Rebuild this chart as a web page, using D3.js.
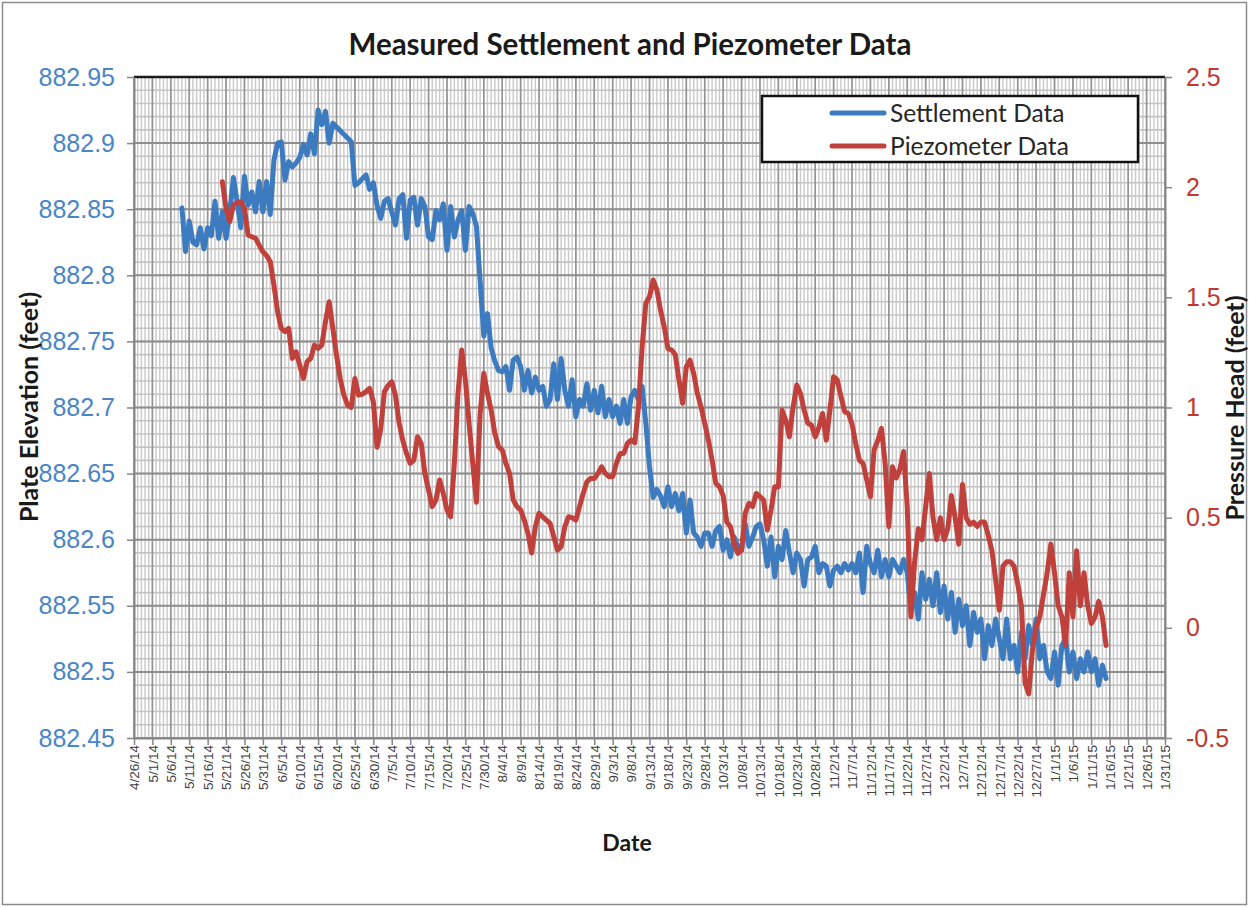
<!DOCTYPE html>
<html>
<head>
<meta charset="utf-8">
<script src="https://cdn.jsdelivr.net/npm/d3@7"></script>
<style>
	body { margin: 0; background: #fff; }
	svg { display: block; font-family: Lato, "Open Sans", sans-serif; }
</style>
</head>
<body>
<div id="wrapper"></div>
<script>
// daily reading dates
const dates = [
	"5/9/14","5/10/14","5/11/14","5/12/14","5/13/14","5/14/14","5/15/14","5/16/14","5/17/14","5/18/14","5/19/14","5/20/14","5/21/14","5/22/14","5/23/14","5/24/14","5/25/14","5/26/14","5/27/14","5/28/14","5/29/14","5/30/14","5/31/14",
	"6/1/14","6/2/14","6/3/14","6/4/14","6/5/14","6/6/14","6/7/14","6/8/14","6/9/14","6/10/14","6/11/14","6/12/14","6/13/14","6/14/14","6/15/14","6/16/14","6/17/14","6/18/14","6/19/14","6/20/14","6/21/14","6/22/14","6/23/14","6/24/14","6/25/14","6/26/14","6/27/14","6/28/14","6/29/14","6/30/14",
	"7/1/14","7/2/14","7/3/14","7/4/14","7/5/14","7/6/14","7/7/14","7/8/14","7/9/14","7/10/14","7/11/14","7/12/14","7/13/14","7/14/14","7/15/14","7/16/14","7/17/14","7/18/14","7/19/14","7/20/14","7/21/14","7/22/14","7/23/14","7/24/14","7/25/14","7/26/14","7/27/14","7/28/14","7/29/14","7/30/14","7/31/14",
	"8/1/14","8/2/14","8/3/14","8/4/14","8/5/14","8/6/14","8/7/14","8/8/14","8/9/14","8/10/14","8/11/14","8/12/14","8/13/14","8/14/14","8/15/14","8/16/14","8/17/14","8/18/14","8/19/14","8/20/14","8/21/14","8/22/14","8/23/14","8/24/14","8/25/14","8/26/14","8/27/14","8/28/14","8/29/14","8/30/14","8/31/14",
	"9/1/14","9/2/14","9/3/14","9/4/14","9/5/14","9/6/14","9/7/14","9/8/14","9/9/14","9/10/14","9/11/14","9/12/14","9/13/14","9/14/14","9/15/14","9/16/14","9/17/14","9/18/14","9/19/14","9/20/14","9/21/14","9/22/14","9/23/14","9/24/14","9/25/14","9/26/14","9/27/14","9/28/14","9/29/14","9/30/14",
	"10/1/14","10/2/14","10/3/14","10/4/14","10/5/14","10/6/14","10/7/14","10/8/14","10/9/14","10/10/14","10/11/14","10/12/14","10/13/14","10/14/14","10/15/14","10/16/14","10/17/14","10/18/14","10/19/14","10/20/14","10/21/14","10/22/14","10/23/14","10/24/14","10/25/14","10/26/14","10/27/14","10/28/14","10/29/14","10/30/14","10/31/14",
	"11/1/14","11/2/14","11/3/14","11/4/14","11/5/14","11/6/14","11/7/14","11/8/14","11/9/14","11/10/14","11/11/14","11/12/14","11/13/14","11/14/14","11/15/14","11/16/14","11/17/14","11/18/14","11/19/14","11/20/14","11/21/14","11/22/14","11/23/14","11/24/14","11/25/14","11/26/14","11/27/14","11/28/14","11/29/14","11/30/14",
	"12/1/14","12/2/14","12/3/14","12/4/14","12/5/14","12/6/14","12/7/14","12/8/14","12/9/14","12/10/14","12/11/14","12/12/14","12/13/14","12/14/14","12/15/14","12/16/14","12/17/14","12/18/14","12/19/14","12/20/14","12/21/14","12/22/14","12/23/14","12/24/14","12/25/14","12/26/14","12/27/14","12/28/14","12/29/14","12/30/14","12/31/14",
	"1/1/15","1/2/15","1/3/15","1/4/15","1/5/15","1/6/15","1/7/15","1/8/15","1/9/15","1/10/15","1/11/15","1/12/15","1/13/15","1/14/15","1/15/15",
];

// plate elevation (feet), null = no reading
const settlement = [
	882.851,882.818,882.841,882.825,882.823,882.836,882.820,882.836,882.830,882.856,882.828,882.848,882.828,882.848,882.874,882.856,882.836,882.875,882.853,882.863,882.848,882.871,882.848,
	882.871,882.846,882.887,882.900,882.901,882.872,882.886,882.882,882.885,882.889,882.899,882.891,882.907,882.892,882.925,882.914,882.924,882.900,882.915,null,null,null,null,882.901,882.868,882.870,882.873,882.876,882.865,882.870,
	882.853,882.843,882.856,882.858,882.848,882.838,882.858,882.861,882.828,882.857,882.859,882.838,882.858,882.852,882.829,882.827,882.849,882.842,882.854,882.819,882.852,882.829,882.842,882.849,882.819,882.852,882.847,882.837,882.796,882.754,882.771,
	882.745,882.735,882.728,882.727,882.731,882.713,882.736,882.738,882.731,882.713,882.728,882.711,882.723,882.713,882.716,882.701,882.706,882.733,882.706,882.737,882.713,882.701,882.721,882.693,882.706,882.701,882.718,882.698,882.713,882.696,882.716,
	882.693,882.706,882.693,882.701,882.688,882.706,882.688,882.708,882.713,882.706,882.716,882.688,882.655,882.632,882.638,882.633,882.625,882.640,882.625,882.635,882.622,882.635,882.605,882.630,882.605,882.602,882.595,882.605,882.605,882.595,
	882.607,882.610,882.592,882.600,882.587,882.602,882.595,882.592,882.612,882.595,882.602,882.610,882.612,882.600,882.580,882.602,882.572,882.595,882.585,882.607,882.590,882.575,882.590,882.585,882.565,882.585,882.587,882.595,882.575,882.582,882.580,
	882.565,882.577,882.580,882.575,882.582,882.577,882.582,882.575,882.590,882.560,882.595,882.582,882.575,882.592,882.572,882.585,882.572,882.585,882.580,882.575,882.585,882.575,882.545,882.560,882.540,882.575,882.555,882.570,882.550,882.575,
	882.545,882.565,882.540,882.560,882.530,882.555,882.535,882.550,882.520,882.545,882.530,882.540,882.510,882.535,882.520,882.540,882.525,882.510,882.540,882.510,882.520,882.500,882.530,882.510,882.535,882.520,882.540,882.510,882.520,882.500,882.495,
	882.515,882.490,882.520,882.525,882.500,882.515,882.495,882.510,882.500,882.515,882.500,882.510,882.490,882.505,882.495,
];

// pressure head (feet), null = no reading
const piezometer = [
	null,null,null,null,null,null,null,null,null,null,null,2.025,1.904,1.843,1.919,1.930,1.934,1.904,1.783,1.775,1.768,1.737,1.707,
	1.690,1.662,1.556,1.435,1.359,1.344,1.359,1.223,1.253,1.193,1.132,1.208,1.223,1.283,1.268,1.283,1.389,1.480,1.359,1.238,1.132,1.056,1.011,1.000,1.132,1.056,1.060,1.072,1.087,1.026,
	0.820,0.900,1.072,1.100,1.117,1.056,0.930,0.850,0.792,0.746,0.761,0.867,0.837,0.701,0.625,0.550,0.580,0.671,0.610,0.535,0.504,0.746,1.064,1.261,1.125,0.928,0.746,0.570,0.973,1.155,1.064,
	0.988,0.883,0.822,0.807,0.746,0.701,0.580,0.550,0.535,0.489,0.429,0.340,0.459,0.520,0.504,0.489,0.474,0.414,0.353,0.368,0.459,0.504,0.500,0.489,0.550,0.610,0.663,0.678,0.678,0.701,0.731,
	0.701,0.686,0.686,0.746,0.790,0.792,0.837,0.852,0.840,1.000,1.276,1.473,1.503,1.579,1.533,1.442,1.367,1.268,1.261,1.240,1.125,1.019,1.185,1.215,1.155,1.064,1.003,0.928,0.852,0.761,
	0.656,0.640,0.600,0.480,0.459,0.383,0.338,0.353,0.520,0.565,0.550,0.610,0.595,0.580,0.444,0.535,0.640,0.640,0.988,0.943,0.867,1.003,1.102,1.064,0.988,0.928,0.920,0.867,0.910,0.973,0.852,
	0.988,1.140,1.125,1.049,0.981,0.973,0.925,0.837,0.761,0.746,0.671,0.595,0.807,0.850,0.905,0.746,0.459,0.731,0.680,0.720,0.800,0.550,0.050,0.300,0.450,0.400,0.550,0.700,0.500,0.400,
	0.500,0.400,0.450,0.600,0.500,0.380,0.650,0.500,0.470,0.480,0.460,0.480,0.480,0.420,0.350,0.220,0.080,0.280,0.300,0.300,0.280,0.200,0.100,-0.250,-0.300,-0.100,0.000,0.050,0.150,0.250,0.380,
	0.250,0.100,0.050,-0.080,0.250,0.050,0.350,0.100,0.250,0.100,0.020,0.050,0.120,0.050,-0.080,
];

const xTickLabels = [
	"4/26/14","5/1/14","5/6/14","5/11/14","5/16/14","5/21/14","5/26/14","5/31/14","6/5/14","6/10/14","6/15/14","6/20/14","6/25/14","6/30/14",
	"7/5/14","7/10/14","7/15/14","7/20/14","7/25/14","7/30/14","8/4/14","8/9/14","8/14/14","8/19/14","8/24/14","8/29/14","9/3/14","9/8/14",
	"9/13/14","9/18/14","9/23/14","9/28/14","10/3/14","10/8/14","10/13/14","10/18/14","10/23/14","10/28/14","11/2/14","11/7/14","11/12/14","11/17/14",
	"11/22/14","11/27/14","12/2/14","12/7/14","12/12/14","12/17/14","12/22/14","12/27/14","1/1/15","1/6/15","1/11/15","1/16/15","1/21/15","1/26/15","1/31/15",
];
const leftTicks = [882.45, 882.5, 882.55, 882.6, 882.65, 882.7, 882.75, 882.8, 882.85, 882.9, 882.95];
const leftTickLabels = ["882.45","882.5","882.55","882.6","882.65","882.7","882.75","882.8","882.85","882.9","882.95"];
const rightTicks = [-0.5, 0, 0.5, 1, 1.5, 2, 2.5];
const rightTickLabels = ["-0.5","0","0.5","1","1.5","2","2.5"];

const width = 1249;
const height = 907;
const plot = { left: 134, right: 1165, top: 77, bottom: 738 };
const blue = "#3d7bc0";
const red = "#c0403c";

const parseDate = d3.timeParse("%m/%d/%y");
const tickDates = xTickLabels.map(parseDate);

const svg = d3
	.select("#wrapper")
	.append("svg")
	.attr("width", width)
	.attr("height", height);

// outer chart frame
svg
	.append("rect")
	.attr("x", 2.5)
	.attr("y", 2.5)
	.attr("width", width - 5)
	.attr("height", height - 5)
	.attr("fill", "#fff")
	.attr("stroke", "#8c8c8c")
	.attr("stroke-width", 1.5);

const xScale = d3
	.scaleTime()
	.domain(d3.extent(tickDates))
	.range([plot.left, plot.right]);
const yLeft = d3
	.scaleLinear()
	.domain([leftTicks[0], leftTicks[leftTicks.length - 1]])
	.range([plot.bottom, plot.top]);
const yRight = d3
	.scaleLinear()
	.domain([rightTicks[0], rightTicks[rightTicks.length - 1]])
	.range([plot.bottom, plot.top]);

// grid: minor lines every day / 0.01 ft, major every 5 days / 0.05 ft
const grid = svg.append("g");
const days = d3.timeDay.range(xScale.domain()[0], d3.timeDay.offset(xScale.domain()[1], 1));
grid
	.selectAll(".vminor")
	.data(days)
	.join("line")
	.attr("x1", (d) => xScale(d))
	.attr("x2", (d) => xScale(d))
	.attr("y1", plot.top)
	.attr("y2", plot.bottom)
	.attr("stroke", "#c9c9c9")
	.attr("stroke-width", 1.4);
grid
	.selectAll(".hminor")
	.data(yLeft.ticks(50))
	.join("line")
	.attr("x1", plot.left)
	.attr("x2", plot.right)
	.attr("y1", (d) => yLeft(d))
	.attr("y2", (d) => yLeft(d))
	.attr("stroke", "#c4c4c4")
	.attr("stroke-width", 1.6);
grid
	.selectAll(".vmajor")
	.data(tickDates)
	.join("line")
	.attr("x1", (d) => xScale(d))
	.attr("x2", (d) => xScale(d))
	.attr("y1", plot.top)
	.attr("y2", plot.bottom)
	.attr("stroke", "#939393")
	.attr("stroke-width", 1.6);
grid
	.selectAll(".hmajor")
	.data(leftTicks)
	.join("line")
	.attr("x1", plot.left)
	.attr("x2", plot.right)
	.attr("y1", (d) => yLeft(d))
	.attr("y2", (d) => yLeft(d))
	.attr("stroke", "#8e8e8e")
	.attr("stroke-width", 2);

// top border of the plot area
svg
	.append("line")
	.attr("x1", plot.left)
	.attr("x2", plot.right)
	.attr("y1", plot.top)
	.attr("y2", plot.top)
	.attr("stroke", "#1a1a1a")
	.attr("stroke-width", 2.5);

// axes
const xAxis = svg
	.append("g")
	.attr("transform", `translate(0, ${plot.bottom})`)
	.call(
		d3.axisBottom(xScale)
			.tickValues(tickDates)
			.tickFormat((d, i) => xTickLabels[i])
			.tickSize(7)
			.tickSizeOuter(0)
	);
xAxis
	.selectAll("text")
	.attr("transform", "rotate(-90)")
	.attr("text-anchor", "end")
	.attr("x", -7)
	.attr("y", 0)
	.attr("dy", "0.35em")
	.attr("fill", "#404040")
	.style("font-size", "13.5px");

const leftAxis = svg
	.append("g")
	.attr("transform", `translate(${plot.left}, 0)`)
	.call(
		d3.axisLeft(yLeft)
			.tickValues(leftTicks)
			.tickFormat((d, i) => leftTickLabels[i])
			.tickSize(7)
			.tickSizeOuter(0)
			.tickPadding(12)
	);
leftAxis.selectAll("text").attr("fill", "#4a86c6").style("font-size", "25px");

const rightAxis = svg
	.append("g")
	.attr("transform", `translate(${plot.right}, 0)`)
	.call(
		d3.axisRight(yRight)
			.tickValues(rightTicks)
			.tickFormat((d, i) => rightTickLabels[i])
			.tickSize(7)
			.tickSizeOuter(0)
			.tickPadding(14)
	);
rightAxis.selectAll("text").attr("fill", "#c0392f").style("font-size", "25px");

for (const axis of [xAxis, leftAxis, rightAxis]) {
	axis.select(".domain").attr("stroke", "#868686").attr("stroke-width", 2);
	axis.selectAll(".tick line").attr("stroke", "#868686").attr("stroke-width", 1.5);
}

// series
const points = (values, scale) =>
	dates
		.map((d, i) => ({ date: parseDate(d), value: values[i] }))
		.filter((d) => d.value !== null)
		.map((d) => [xScale(d.date), scale(d.value)]);

const line = d3.line();

svg
	.append("path")
	.attr("d", line(points(settlement, yLeft)))
	.attr("fill", "none")
	.attr("stroke", blue)
	.attr("stroke-width", 5)
	.attr("stroke-linejoin", "round")
	.attr("stroke-linecap", "round");

svg
	.append("path")
	.attr("d", line(points(piezometer, yRight)))
	.attr("fill", "none")
	.attr("stroke", red)
	.attr("stroke-width", 5)
	.attr("stroke-linejoin", "round")
	.attr("stroke-linecap", "round");

// legend
const legend = svg.append("g");
legend
	.append("rect")
	.attr("x", 762)
	.attr("y", 96)
	.attr("width", 376)
	.attr("height", 66)
	.attr("fill", "#fff")
	.attr("stroke", "#111")
	.attr("stroke-width", 2.5);
[
	{ label: "Settlement Data", color: blue, y: 113 },
	{ label: "Piezometer Data", color: red, y: 146 },
].forEach((item) => {
	legend
		.append("line")
		.attr("x1", 832)
		.attr("x2", 884)
		.attr("y1", item.y)
		.attr("y2", item.y)
		.attr("stroke", item.color)
		.attr("stroke-width", 5)
		.attr("stroke-linecap", "round");
	legend
		.append("text")
		.attr("x", 890)
		.attr("y", item.y)
		.attr("dy", "0.35em")
		.attr("fill", "#262626")
		.style("font-size", "24.5px")
		.text(item.label);
});

// titles
svg
	.append("text")
	.attr("x", 630)
	.attr("y", 45)
	.attr("dy", "0.35em")
	.attr("text-anchor", "middle")
	.style("font-size", "29.5px")
	.style("font-weight", "bold")
	.attr("fill", "#1a1a1a")
	.text("Measured Settlement and Piezometer Data");

svg
	.append("text")
	.attr("transform", "translate(29, 407) rotate(-90)")
	.attr("dy", "0.35em")
	.attr("text-anchor", "middle")
	.style("font-size", "25px")
	.style("font-weight", "bold")
	.attr("fill", "#1a1a1a")
	.text("Plate Elevation (feet)");

svg
	.append("text")
	.attr("transform", "translate(1235, 408) rotate(-90)")
	.attr("dy", "0.35em")
	.attr("text-anchor", "middle")
	.style("font-size", "25px")
	.style("font-weight", "bold")
	.attr("fill", "#1a1a1a")
	.text("Pressure Head (feet)");

svg
	.append("text")
	.attr("x", 627)
	.attr("y", 843)
	.attr("dy", "0.35em")
	.attr("text-anchor", "middle")
	.style("font-size", "23px")
	.style("font-weight", "bold")
	.attr("fill", "#1a1a1a")
	.text("Date");
</script>
</body>
</html>
